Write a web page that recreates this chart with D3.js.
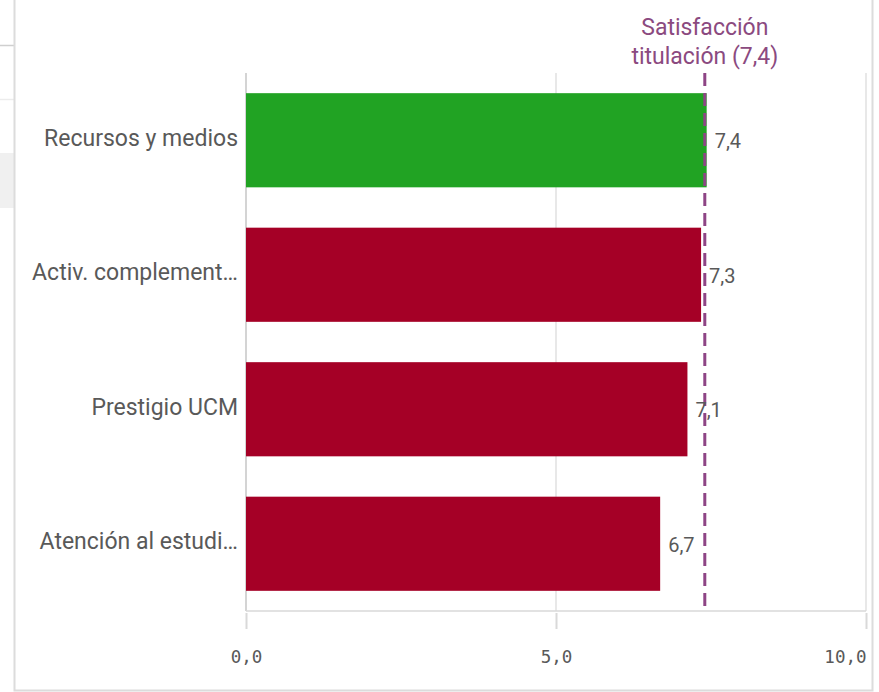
<!DOCTYPE html>
<html>
<head>
<meta charset="utf-8">
<script src="https://cdn.jsdelivr.net/npm/d3@7/dist/d3.min.js"></script>
<style>
  html, body { margin: 0; padding: 0; background: #ffffff; }
  svg { display: block; }
</style>
</head>
<body>
<svg id="chart" width="879" height="692"></svg>
<script>
// Satisfaction scores by dimension (0–10 scale)
const categories = ["Recursos y medios", "Activ. complement…", "Prestigio UCM", "Atención al estudi…"];
const values = [7.43, 7.34, 7.12, 6.68];
const barColors = ["#21a323", "#a50026", "#a50026", "#a50026"];
const referenceValue = 7.4;
const referenceTitle = ["Satisfacción", "titulación (7,4)"];
const tickValues = [0, 5, 10];

const svg = d3.select("#chart");
const fmt = v => d3.format(".1f")(v).replace(".", ",");

// Surrounding panel chrome
svg.append("rect").attr("x", 0).attr("y", 153).attr("width", 14).attr("height", 55).attr("fill", "#f0f0f0");
svg.append("line").attr("x1", 0).attr("x2", 14).attr("y1", 45.5).attr("y2", 45.5).attr("stroke", "#cfcfcf").attr("stroke-width", 1.5);
svg.append("line").attr("x1", 0).attr("x2", 14).attr("y1", 99.5).attr("y2", 99.5).attr("stroke", "#ececec").attr("stroke-width", 1.5);
svg.append("path")
  .attr("d", "M14.5,0 V690.5 H872.5 V0")
  .attr("fill", "none").attr("stroke", "#dcdcdc").attr("stroke-width", 2);

// Scales
const x = d3.scaleLinear().domain([0, 10]).range([246, 866]);
const y = d3.scaleBand().domain(categories).range([73, 611]).paddingInner(0.3).paddingOuter(0.15);

const plotTop = 73, plotBottom = 611;

// Vertical gridlines
svg.append("g").selectAll("line").data(tickValues.slice(1)).join("line")
  .attr("x1", d => x(d)).attr("x2", d => x(d))
  .attr("y1", plotTop).attr("y2", plotBottom)
  .attr("stroke", "#e0e0e0").attr("stroke-width", 1.5);

// Category axis line
svg.append("line").attr("x1", x(0)).attr("x2", x(0)).attr("y1", plotTop).attr("y2", plotBottom)
  .attr("stroke", "#d4d4d4").attr("stroke-width", 2);

// Bottom baseline
svg.append("line").attr("x1", x(0)).attr("x2", x(10)).attr("y1", plotBottom).attr("y2", plotBottom)
  .attr("stroke", "#d9d9d9").attr("stroke-width", 1.5);

// Value axis
const xAxis = d3.axisBottom(x).tickValues(tickValues).tickSize(16).tickPadding(22).tickFormat(fmt);
const gx = svg.append("g").attr("transform", `translate(0,${plotBottom + 2})`).call(xAxis);
gx.select(".domain").remove();
gx.selectAll(".tick line").attr("stroke", "#d9d9d9").attr("stroke-width", 2);
gx.selectAll(".tick text")
  .attr("fill", "#595959")
  .style("font-family", "'DejaVu Sans Mono', monospace")
  .style("font-size", "17.5px")
  .attr("text-anchor", d => d === 10 ? "end" : "middle");

// Bars
svg.append("g").selectAll("rect").data(categories).join("rect")
  .attr("x", x(0))
  .attr("y", d => y(d))
  .attr("width", (d, i) => x(values[i]) - x(0))
  .attr("height", y.bandwidth())
  .attr("fill", (d, i) => barColors[i]);

// Category labels
svg.append("g").selectAll("text").data(categories).join("text")
  .attr("x", 238)
  .attr("y", d => y(d) + y.bandwidth() / 2 - 2)
  .attr("text-anchor", "end")
  .attr("dominant-baseline", "central")
  .attr("fill", "#595959")
  .style("font-family", "Roboto, sans-serif")
  .style("font-size", "23px")
  .text(d => d);

// Reference line
svg.append("line")
  .attr("x1", x(referenceValue)).attr("x2", x(referenceValue))
  .attr("y1", plotTop).attr("y2", plotBottom + 2)
  .attr("stroke", "#8e4585").attr("stroke-width", 3)
  .attr("stroke-dasharray", "13,7");

svg.append("g").selectAll("text").data(referenceTitle).join("text")
  .attr("x", x(referenceValue))
  .attr("y", (d, i) => 27 + i * 29)
  .attr("text-anchor", "middle")
  .attr("dominant-baseline", "central")
  .attr("fill", "#8b4a80")
  .style("font-family", "Roboto, sans-serif")
  .style("font-size", "23px")
  .text(d => d);

// Value labels
svg.append("g").selectAll("text").data(categories).join("text")
  .attr("x", (d, i) => x(values[i]) + 8)
  .attr("y", d => y(d) + y.bandwidth() / 2 + 1)
  .attr("dominant-baseline", "central")
  .attr("fill", "#595959")
  .style("font-family", "Roboto, sans-serif")
  .style("font-size", "20px")
  .text((d, i) => fmt(values[i]));
</script>
</body>
</html>
